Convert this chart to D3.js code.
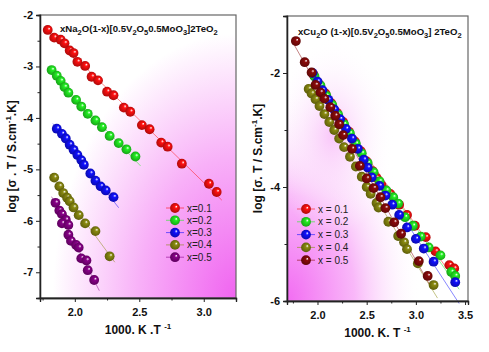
<!DOCTYPE html>
<html>
<head>
<meta charset="utf-8">
<script src="https://cdn.jsdelivr.net/npm/d3@7"></script>
<style>
  body { margin: 0; background: #fff; }
  svg { display: block; font-family: "Liberation Sans", Arial, sans-serif; }
</style>
</head>
<body>
<svg id="chart" width="489" height="352"></svg>
<script>
// left panel: xNa2O glasses, [1000/T, log(sigma T)]
var naLabels = ["x=0.1", "x=0.2", "x=0.3", "x=0.4", "x=0.5"];
var naColors = ["#ff1010", "#22ee22", "#1010ff", "#8a8a10", "#880088"];
var na01 = [[1.79,-2.29],[1.84,-2.44],[1.89,-2.48],[1.92,-2.55],[1.96,-2.69],[1.99,-2.74],[2.02,-2.91],[2.08,-2.99],[2.13,-3.20],[2.18,-3.27],[2.25,-3.49],[2.30,-3.56],[2.38,-3.80],[2.43,-3.88],[2.52,-4.14],[2.58,-4.22],[2.67,-4.48],[2.72,-4.56],[2.83,-4.89],[3.04,-5.28],[3.10,-5.44]];
var na02 = [[1.82,-3.07],[1.86,-3.18],[1.89,-3.28],[1.92,-3.40],[1.95,-3.51],[2.01,-3.65],[2.05,-3.78],[2.10,-3.92],[2.16,-4.05],[2.21,-4.18],[2.27,-4.35],[2.34,-4.49],[2.40,-4.61],[2.47,-4.75]];
var na03 = [[1.86,-4.21],[1.90,-4.31],[1.93,-4.40],[1.96,-4.52],[1.99,-4.62],[2.02,-4.72],[2.05,-4.82],[2.07,-4.91],[2.12,-5.08],[2.16,-5.22],[2.20,-5.33],[2.24,-5.41],[2.30,-5.54]];
var na04 = [[1.84,-5.16],[1.88,-5.33],[1.91,-5.46],[1.94,-5.55],[1.96,-5.62],[1.99,-5.74],[2.03,-5.89],[2.08,-6.05],[2.16,-6.20],[2.27,-6.69]];
var na05 = [[1.85,-5.65],[1.88,-5.80],[1.90,-5.87],[1.93,-5.98],[1.90,-6.05],[1.95,-6.08],[1.95,-6.27],[1.97,-6.39],[2.01,-6.47],[2.03,-6.52],[2.05,-6.73],[2.09,-6.77],[2.10,-6.96],[2.15,-7.15]];

// right panel: xCu2O glasses
var cuLabels = ["x = 0.1", "x = 0.2", "x = 0.3", "x = 0.4", "x = 0.5"];
var cuColors = ["#ff1010", "#22ee22", "#1010ff", "#8a8a10", "#8a0a0a"];
var cu01 = [[1.96,-2.03],[2.02,-2.20],[2.08,-2.36],[2.14,-2.53],[2.20,-2.70],[2.26,-2.86],[2.32,-3.03],[2.38,-3.20],[2.44,-3.37],[2.50,-3.55],[2.56,-3.72],[2.60,-3.84],[2.65,-3.97],[2.74,-4.12],[2.83,-4.31],[2.91,-4.49],[2.99,-4.68],[3.10,-4.88],[3.20,-5.13],[3.34,-5.37],[3.39,-5.43]];
var cu02 = [[1.97,-2.06],[2.03,-2.22],[2.09,-2.40],[2.15,-2.56],[2.21,-2.73],[2.27,-2.90],[2.33,-3.06],[2.39,-3.24],[2.45,-3.41],[2.51,-3.58],[2.57,-3.74],[2.63,-3.90],[2.70,-4.06],[2.77,-4.18],[2.82,-4.29],[2.89,-4.53],[2.97,-4.68],[3.05,-4.87],[3.13,-5.06],[3.25,-5.20],[3.36,-5.49],[3.40,-5.56]];
var cu03 = [[1.95,-2.00],[2.00,-2.15],[2.05,-2.30],[2.11,-2.47],[2.17,-2.64],[2.23,-2.81],[2.29,-2.98],[2.35,-3.15],[2.41,-3.33],[2.47,-3.52],[2.51,-3.66],[2.55,-3.83],[2.63,-3.98],[2.69,-4.15],[2.76,-4.31],[2.83,-4.49],[2.91,-4.71],[3.00,-4.91],[3.08,-5.08],[3.18,-5.31],[3.40,-5.67]];
var cu04 = [[1.91,-2.28],[1.94,-2.36],[1.98,-2.46],[2.02,-2.58],[2.07,-2.72],[2.12,-2.86],[2.17,-3.00],[2.22,-3.15],[2.27,-3.30],[2.33,-3.47],[2.39,-3.64],[2.45,-3.82],[2.50,-4.00],[2.54,-4.12],[2.60,-4.28],[2.62,-4.36],[2.72,-4.61],[2.82,-4.86],[2.88,-4.97],[2.91,-5.09],[3.02,-5.34],[3.18,-5.72]];
var cu05 = [[1.78,-1.44],[1.87,-1.81],[1.94,-1.99],[1.98,-2.21],[2.03,-2.34],[2.07,-2.45],[2.13,-2.60],[2.18,-2.75],[2.22,-2.90],[2.26,-3.09],[2.35,-3.33],[2.43,-3.63],[2.50,-3.85],[2.57,-4.02],[2.64,-4.18],[2.69,-4.37],[2.78,-4.62],[2.85,-4.82],[3.03,-5.30],[3.12,-5.56]];

var naTitle = [["xNa",0],["2",1],["O(1-x)[0.5V",0],["2",1],["O",0],["5",1],["0.5MoO",0],["3",1],["]2TeO",0],["2",1]];
var cuTitle = [["xCu",0],["2",1],["O (1-x)[0.5V",0],["2",1],["O",0],["5",1],["0.5MoO",0],["3",1],["] 2TeO",0],["2",1]];

var svg = d3.select("#chart");
var defs = svg.append("defs");

// sphere look for the markers
function sphere(id, col) {
  var g = defs.append("radialGradient").attr("id", id)
    .attr("cx", "0.5").attr("cy", "0.5").attr("r", "0.55")
    .attr("fx", "0.66").attr("fy", "0.34");
  g.append("stop").attr("offset", "0").attr("stop-color", "#fff");
  g.append("stop").attr("offset", "0.28").attr("stop-color", col);
  g.append("stop").attr("offset", "1").attr("stop-color", d3.color(col).darker(1.2));
}
naColors.forEach(function(c, i) { sphere("na" + i, c); });
cuColors.forEach(function(c, i) { sphere("cu" + i, c); });

// backgrounds
var bgL = defs.append("radialGradient").attr("id", "bgL")
  .attr("cx", "1").attr("cy", "1").attr("r", "1.1");
bgL.append("stop").attr("offset", "0").attr("stop-color", "#f064f0");
bgL.append("stop").attr("offset", "0.45").attr("stop-color", "#f8b0f8");
bgL.append("stop").attr("offset", "0.85").attr("stop-color", "#fff");
var bgR = defs.append("radialGradient").attr("id", "bgR")
  .attr("cx", "0").attr("cy", "1").attr("r", "0.75");
bgR.append("stop").attr("offset", "0").attr("stop-color", "#f26cf2");
bgR.append("stop").attr("offset", "0.5").attr("stop-color", "#f9b8f9");
bgR.append("stop").attr("offset", "1").attr("stop-color", "#fff").attr("stop-opacity", "0");
var bgR2 = defs.append("radialGradient").attr("id", "bgR2")
  .attr("cx", "0.25").attr("cy", "0.42").attr("r", "0.35");
bgR2.append("stop").attr("offset", "0").attr("stop-color", "#f9c6f9");
bgR2.append("stop").attr("offset", "1").attr("stop-color", "#fff").attr("stop-opacity", "0");

function writeFormula(t, parts) {
  parts.forEach(function(p) {
    t.append("tspan").text(p[0])
      .attr("font-size", p[1] ? 7.5 : 9.6)
      .attr("dy", p[1] ? 3 : (t.property("lastSub") ? -3 : 0));
    t.property("lastSub", p[1]);
  });
}

function fitLine(pts) {
  var mx = d3.mean(pts, d => d[0]), my = d3.mean(pts, d => d[1]);
  var sxy = d3.sum(pts, d => (d[0] - mx) * (d[1] - my));
  var sxx = d3.sum(pts, d => (d[0] - mx) * (d[0] - mx));
  var b = sxy / sxx, a = my - b * mx;
  var ex = d3.extent(pts, d => d[0]);
  return [[ex[0] - 0.03, a + b * (ex[0] - 0.03)], [ex[1] + 0.04, a + b * (ex[1] + 0.04)]];
}

function panel(o) {
  var x = d3.scaleLinear().domain(o.xd).range([o.x0, o.x1]);
  var y = d3.scaleLinear().domain(o.yd).range([o.y1, o.y0]);
  var g = svg.append("g");

  g.append("rect").attr("x", o.x0).attr("y", o.y0)
    .attr("width", o.x1 - o.x0).attr("height", o.y1 - o.y0)
    .attr("fill", o.bg);
  if (o.bg2) g.append("rect").attr("x", o.x0).attr("y", o.y0)
    .attr("width", o.x1 - o.x0).attr("height", o.y1 - o.y0).attr("fill", o.bg2);

  // fitted lines, then spheres
  o.series.forEach(function(s, i) {
    var f = fitLine(s);
    g.append("line")
      .attr("x1", x(f[0][0])).attr("y1", y(f[0][1]))
      .attr("x2", x(f[1][0])).attr("y2", y(f[1][1]))
      .attr("stroke", o.colors[i]).attr("stroke-opacity", 0.5).attr("stroke-width", 1);
  });
  o.series.forEach(function(s, i) {
    g.selectAll(null).data(s).enter().append("circle")
      .attr("cx", d => x(d[0])).attr("cy", d => y(d[1])).attr("r", 4.9)
      .attr("fill", "url(#" + o.pre + i + ")");
  });

  // frame
  g.append("rect").attr("x", o.x0).attr("y", o.y0)
    .attr("width", o.x1 - o.x0).attr("height", o.y1 - o.y0)
    .attr("fill", "none").attr("stroke", "#666").attr("stroke-width", 1.2);

  g.append("g").attr("transform", "translate(0," + o.y1 + ")")
    .call(d3.axisBottom(x).tickValues(o.xt).tickFormat(d3.format(".1f")).tickSize(4).tickPadding(6));
  g.append("g").attr("transform", "translate(0," + o.y1 + ")")
    .call(d3.axisBottom(x).tickValues(o.xm).tickFormat("").tickSize(2.5));
  var ay = g.append("g").attr("transform", "translate(" + o.x0 + ",0)")
    .call(d3.axisLeft(y).tickValues(o.yt).tickFormat(d3.format("d")).tickSize(4).tickPadding(3));
  g.append("g").attr("transform", "translate(" + o.x0 + ",0)")
    .call(d3.axisLeft(y).tickValues(o.ym).tickFormat("").tickSize(2.5));
  g.selectAll(".domain").attr("stroke", "#222").attr("stroke-width", 1.3);
  g.selectAll(".tick line").attr("stroke", "#222");
  g.selectAll(".tick text").attr("font-size", 11).attr("font-weight", "bold")
    .attr("font-family", "Liberation Sans, Arial, sans-serif").attr("fill", "#111");
  ay.selectAll(".tick text").text(d => d < 0 ? "-" + Math.abs(d) : d);

  // title
  var t = g.append("text").attr("x", o.tx).attr("y", o.ty)
    .attr("font-weight", "bold").attr("fill", "#111");
  writeFormula(t, o.title);

  // axis titles
  var xl = g.append("text").attr("x", (o.x0 + o.x1) / 2).attr("y", o.xly)
    .attr("text-anchor", "middle").attr("font-size", 12).attr("font-weight", "bold").attr("fill", "#111");
  xl.append("tspan").text(o.xlab);
  xl.append("tspan").text("-1").attr("font-size", 8).attr("dy", -5);

  var yl = g.append("text")
    .attr("transform", "translate(" + o.ylx + "," + ((o.y0 + o.y1) / 2) + ") rotate(-90)")
    .attr("text-anchor", "middle").attr("font-size", 12).attr("font-weight", "bold").attr("fill", "#111");
  yl.append("tspan").text(o.ylab1);
  yl.append("tspan").text("-1").attr("font-size", 8).attr("dy", -5);
  yl.append("tspan").text(".K]").attr("dy", 5);

  // legend
  o.labels.forEach(function(lab, i) {
    var ly = o.ly + i * o.lstep;
    g.append("line").attr("x1", o.lx - 9).attr("x2", o.lx + 9).attr("y1", ly).attr("y2", ly)
      .attr("stroke", o.colors[i]).attr("stroke-opacity", 0.6);
    g.append("circle").attr("cx", o.lx).attr("cy", ly).attr("r", 4.9)
      .attr("fill", "url(#" + o.pre + i + ")");
    g.append("text").attr("x", o.lx + 12).attr("y", ly + 3.5).attr("font-size", 10)
      .attr("fill", "#222").text(lab);
  });
}

panel({
  x0: 40, x1: 236, y0: 15, y1: 298, xd: [1.73, 3.25], yd: [-7.5, -2],
  xt: [2.0, 2.5, 3.0], xm: [1.75, 2.25, 2.75, 3.25],
  yt: [-2, -3, -4, -5, -6, -7], ym: [-2.5, -3.5, -4.5, -5.5, -6.5, -7.5],
  series: [na01, na02, na03, na04, na05], colors: naColors, labels: naLabels, pre: "na",
  bg: "url(#bgL)", title: naTitle, tx: 60, ty: 32,
  xlab: "1000. K .T ", xly: 334, ylab1: "log [\u03c3 . T / S.cm", ylx: 16,
  lx: 175, ly: 208, lstep: 12.3
});

panel({
  x0: 287, x1: 468, y0: 16, y1: 301, xd: [1.69, 3.53], yd: [-6, -1],
  xt: [2.0, 2.5, 3.0, 3.5], xm: [1.75, 2.25, 2.75, 3.25],
  yt: [-2, -4, -6], ym: [-1, -3, -5],
  series: [cu01, cu02, cu03, cu04, cu05], colors: cuColors, labels: cuLabels, pre: "cu",
  bg: "url(#bgR)", bg2: "url(#bgR2)", title: cuTitle, tx: 298, ty: 35,
  xlab: "1000. K. T ", xly: 337, ylab1: "log [\u03c3. T / S.cm", ylx: 262,
  lx: 306, ly: 209, lstep: 12.8
});
</script>
</body>
</html>
